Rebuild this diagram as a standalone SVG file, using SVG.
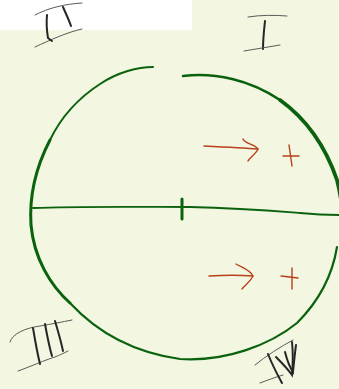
<svg xmlns="http://www.w3.org/2000/svg" width="339" height="389" viewBox="0 0 339 389">
<style>
.g{fill:none;stroke:#0b620e;stroke-linecap:round;stroke-linejoin:round}
.r{fill:none;stroke:#b8401a;stroke-width:1.4;stroke-linecap:round;stroke-linejoin:round}
.k{fill:none;stroke:#262626;stroke-width:2;stroke-linecap:round}
.t{fill:none;stroke:#5a5a5a;stroke-width:1;stroke-linecap:round}
</style>
<rect width="339" height="389" fill="#f3f6e1"/>
<rect x="0" y="0" width="192" height="30" fill="#ffffff"/>
<g id="circle">
<path class="g" stroke-width="2" d="M153,67 C138,67 118,72 100,84 C80,97 62,115 50,140"/>
<path class="g" stroke-width="3" d="M50,140 C37,165 29,195 31,225 C34,258 50,285 70,303"/>
<path class="g" stroke-width="2.2" d="M70,303 C95,330 130,352 180,359 C225,362 270,345 297,323 C318,302 332,278 337,247"/>
<path class="g" stroke-width="2.5" d="M183,76 C215,72 250,80 280,100"/>
<path class="g" stroke-width="3.8" d="M280,100 C305,118 325,145 337,180 C340,192 342,205 343,215"/>
</g>
<g id="diameter">
<path class="g" stroke-width="1.8" d="M33,208 C80,206 150,207 190,207 C240,208 275,211 300,213 C320,215 332,215 339,215"/>
<path class="g" stroke-width="3" d="M182,199 L182,219"/>
</g>
<g id="arrow-top">
<path class="r" d="M204,146 C225,147 245,148 258,149"/>
<path class="r" d="M243,139 C245,144 255,144 258,149 C256,154 250,157 248,161"/>
</g>
<g id="plus-top">
<path class="r" d="M283,156 L299,156"/>
<path class="r" d="M289,145 L292,166"/>
</g>
<g id="arrow-bottom">
<path class="r" d="M209,276 C225,275 240,275 253,276"/>
<path class="r" d="M236,264 C243,268 250,270 253,276 C250,282 245,285 242,289"/>
</g>
<g id="plus-bottom">
<path class="r" d="M281,276 L298,278"/>
<path class="r" d="M292,268 L292,289"/>
</g>
<g id="numeral-I">
<path class="t" d="M248,17 C260,15 275,15 287,16"/>
<path class="k" stroke-width="1.6" d="M265,21 C264,30 263,40 263,49"/>
<path class="t" d="M244,51 C256,49 268,47 280,45"/>
</g>
<g id="numeral-II">
<path class="t" d="M35,15 C48,8 65,4 82,3"/>
<path class="t" d="M35,47 C50,40 68,32 82,29"/>
<path class="k" d="M47,15 C46,25 47,32 48,38 L52,41"/>
<path class="k" d="M63,7 C66,14 69,20 71,26"/>
</g>
<g id="numeral-III">
<path class="t" d="M10,342 C12,334 25,328 40,326 C52,324 62,322 72,320"/>
<path class="t" d="M18,371 C32,366 45,360 55,357 C60,355 64,353 68,351"/>
<path class="k" d="M33,328 C35,340 37,352 40,364"/>
<path class="k" d="M45,324 C47,335 49,346 52,356"/>
<path class="k" d="M55,321 C58,331 61,341 63,351"/>
</g>
<g id="numeral-IV">
<path class="t" d="M255,365 C266,356 280,347 293,340"/>
<path class="t" d="M260,383 C268,380 276,377 283,375"/>
<path class="k" d="M268,354 C272,364 277,374 282,383"/>
<path class="k" d="M276,357 C281,362 287,368 292,375 C293,364 293,352 292,342"/>
<path class="k" stroke-width="1.6" d="M285,352 C287,360 289,366 293,372 C294,362 295,352 296,345"/>
</g>
</svg>
